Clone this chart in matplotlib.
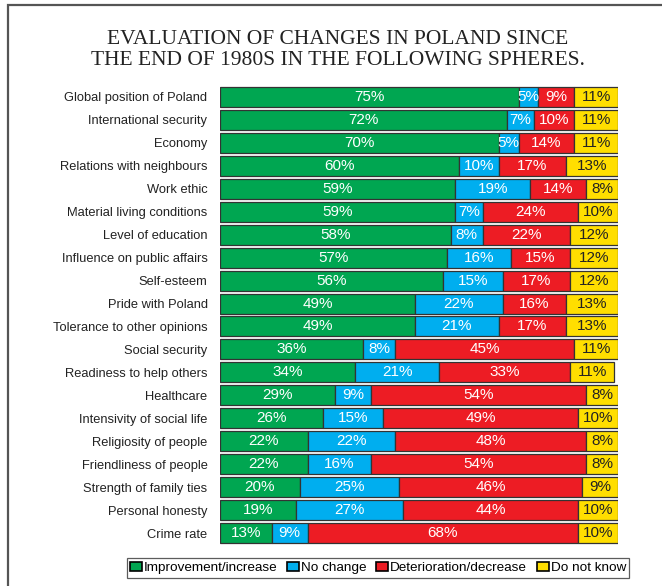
import numpy as np
import matplotlib.pyplot as plt
from matplotlib.patches import Rectangle

# survey answers, percent of respondents
spheres = ['Global position of Poland', 'International security', 'Economy',
           'Relations with neighbours', 'Work ethic', 'Material living conditions',
           'Level of education', 'Influence on public affairs', 'Self-esteem',
           'Pride with Poland', 'Tolerance to other opinions', 'Social security',
           'Readiness to help others', 'Healthcare', 'Intensivity of social life',
           'Religiosity of people', 'Friendliness of people', 'Strength of family ties',
           'Personal honesty', 'Crime rate']
improvement = [75, 72, 70, 60, 59, 59, 58, 57, 56, 49, 49, 36, 34, 29, 26, 22, 22, 20, 19, 13]
no_change = [5, 7, 5, 10, 19, 7, 8, 16, 15, 22, 21, 8, 21, 9, 15, 22, 16, 25, 27, 9]
deterioration = [9, 10, 14, 17, 14, 24, 22, 15, 17, 16, 17, 45, 33, 54, 49, 48, 54, 46, 44, 68]
dont_know = [11, 11, 11, 13, 8, 10, 12, 12, 12, 13, 13, 11, 11, 8, 10, 8, 8, 9, 10, 10]

series = [improvement, no_change, deterioration, dont_know]
names = ['Improvement/increase', 'No change', 'Deterioration/decrease', 'Do not know']
colors = ['#00a651', '#00aeef', '#ed1c24', '#ffde00']
text_colors = ['white', 'white', 'white', '#222222']

W, H = 662, 586
fig = plt.figure(figsize=(W / 100, H / 100), dpi=100)
plt.rcParams['font.family'] = ['Liberation Sans', 'DejaVu Sans']

# outer frame (runs off the right and bottom edges)
fig.patches.append(Rectangle((8 / W, -0.05), 1.0, 1 - 5 / H + 0.05, transform=fig.transFigure,
                             fill=False, edgecolor='#555555', linewidth=1.6))

fig.text(338 / W, 1 - 50 / H, 'EVALUATION OF CHANGES IN POLAND SINCE\nTHE END OF 1980S IN THE FOLLOWING SPHERES.',
         ha='center', va='center', fontsize=15.5, family='Liberation Serif',
         color='#222222', linespacing=1.08)

ax = fig.add_axes([220 / W, 1 - 544.5 / H, 398 / W, 459 / H])
y = np.arange(len(spheres))
left = np.zeros(len(spheres))
for vals, name, col, tc in zip(series, names, colors, text_colors):
    vals = np.array(vals)
    ax.barh(y, vals, left=left, height=0.87, color=col, edgecolor='#333333',
            linewidth=0.9, label=name)
    for yi, l, v in zip(y, left, vals):
        ax.text(l + v / 2, yi, f'{v}%', ha='center', va='center',
                color=tc, fontsize=11)
    left = left + vals

ax.set_xlim(0, 100)
ax.set_ylim(len(spheres) - 0.5, -0.5)
ax.set_yticks(y)
ax.set_yticklabels(spheres, fontsize=9.3, color='#222222')
ax.tick_params(axis='y', length=0, pad=9)
ax.set_xticks([])
for s in ax.spines.values():
    s.set_visible(False)

leg = fig.legend(loc='center', bbox_to_anchor=(378 / W, 1 - 568 / H), ncol=4,
                 fontsize=9.7, frameon=True, fancybox=False, edgecolor='#333333',
                 handlelength=0.9, handleheight=0.7, handletextpad=0.15,
                 columnspacing=0.7, borderpad=0.25, borderaxespad=0)
leg.get_frame().set_linewidth(0.9)
for p in leg.get_patches():
    p.set_edgecolor('black')
    p.set_linewidth(1.2)

fig.savefig('out.png', dpi=100)
